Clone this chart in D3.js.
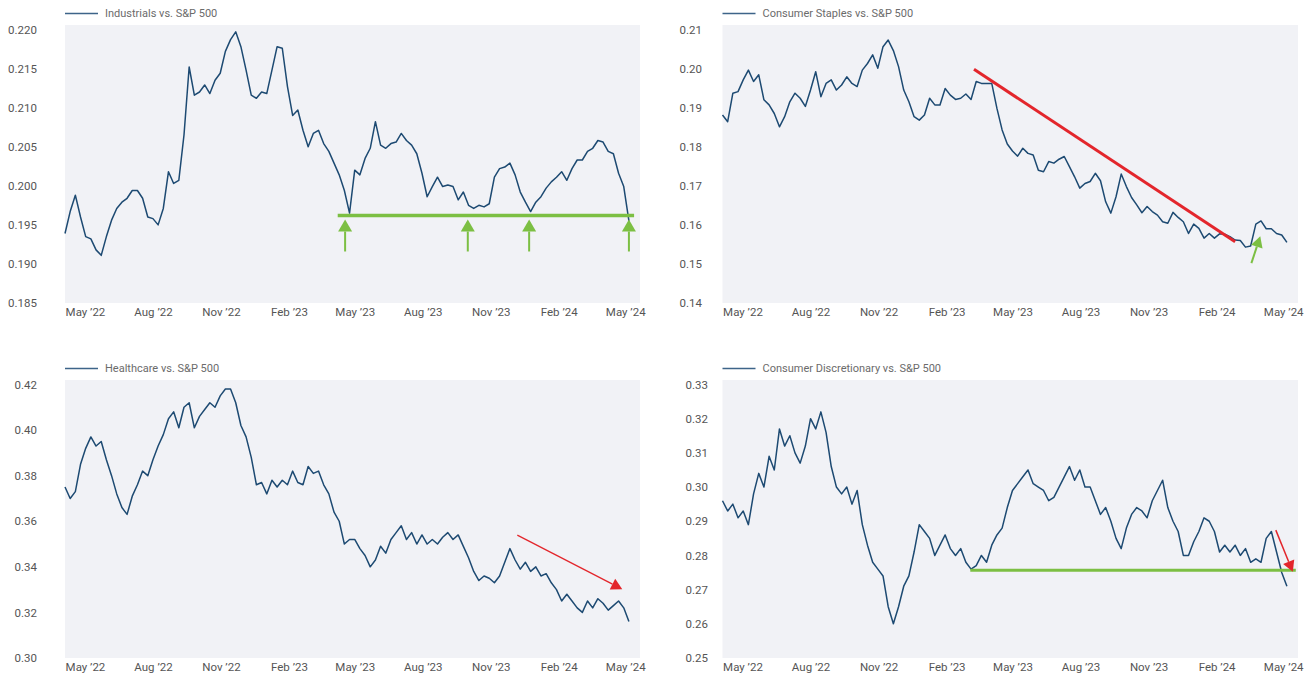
<!DOCTYPE html>
<html><head><meta charset="utf-8">
<script src="https://cdn.jsdelivr.net/npm/d3@7"></script>
<style>
body{margin:0;background:#fff}
text{font-family:Roboto,"Noto Sans",sans-serif}
</style>
</head><body>
<svg id="c" width="1312" height="682"></svg>
<script>
// ---------- DATA ----------
const startDate = "2022-04-04";          // first weekly observation
const endDomain = "2024-05-21";          // right edge of time axis
const tickDates = ["2022-05-01","2022-08-01","2022-11-01","2023-02-01","2023-05-01","2023-08-01","2023-11-01","2024-02-01","2024-05-01"];
const titles = ["Industrials vs. S&P 500","Consumer Staples vs. S&P 500","Healthcare vs. S&P 500","Consumer Discretionary vs. S&P 500"];

const industrials = [0.1939,0.1967,0.1988,0.1960,0.1935,0.1932,0.1918,0.1911,0.1935,0.1956,
0.1971,0.1979,0.1984,0.1994,0.1994,0.1984,0.1960,0.1958,0.1950,0.1971,
0.2018,0.2003,0.2007,0.2065,0.2152,0.2116,0.2120,0.2129,0.2118,0.2135,
0.2144,0.2172,0.2187,0.2197,0.2178,0.2148,0.2116,0.2112,0.2120,0.2118,
0.2148,0.2178,0.2176,0.2127,0.2090,0.2097,0.2071,0.2050,0.2067,0.2071,
0.2054,0.2044,0.2029,0.2014,0.1994,0.1965,0.2020,0.2014,0.2035,0.2048,
0.2082,0.2052,0.2048,0.2054,0.2056,0.2067,0.2058,0.2052,0.2041,0.2016,
0.1986,0.1999,0.2011,0.1999,0.2001,0.1999,0.1982,0.1992,0.1975,0.1971,
0.1975,0.1973,0.1977,0.2011,0.2022,0.2024,0.2029,0.2014,0.1992,0.1979,
0.1967,0.1979,0.1986,0.1997,0.2005,0.2011,0.2018,0.2007,0.2022,0.2033,
0.2033,0.2044,0.2048,0.2058,0.2056,0.2044,0.2041,0.2016,0.1999,0.1955];

const staples = [0.1881,0.1864,0.1937,0.1941,0.1971,0.1996,0.1967,0.1984,0.1920,0.1907,
0.1885,0.1851,0.1877,0.1915,0.1937,0.1924,0.1903,0.1945,0.1992,0.1928,
0.1962,0.1971,0.1945,0.1958,0.1979,0.1962,0.1954,0.1996,0.2013,0.2035,
0.2001,0.2056,0.2073,0.2046,0.2005,0.1945,0.1915,0.1877,0.1868,0.1881,
0.1924,0.1907,0.1907,0.1949,0.1932,0.1921,0.1924,0.1935,0.1921,0.1967,
0.1962,0.1962,0.1962,0.1898,0.1843,0.1807,0.1789,0.1776,0.1796,0.1783,
0.1779,0.1740,0.1736,0.1762,0.1758,0.1768,0.1775,0.1749,0.1723,0.1694,
0.1706,0.1711,0.1732,0.1713,0.1659,0.1630,0.1672,0.1730,0.1698,0.1670,
0.1651,0.1631,0.1647,0.1634,0.1625,0.1608,0.1604,0.1632,0.1619,0.1608,
0.1578,0.1602,0.1591,0.1566,0.1578,0.1566,0.1577,0.1576,0.1570,0.1561,
0.1560,0.1543,0.1546,0.1602,0.1610,0.1590,0.1590,0.1578,0.1574,0.1555];

const healthcare = [0.375,0.370,0.373,0.385,0.392,0.397,0.393,0.395,0.387,0.380,
0.372,0.366,0.363,0.371,0.376,0.382,0.380,0.387,0.393,0.398,
0.405,0.408,0.401,0.410,0.412,0.401,0.406,0.409,0.412,0.410,
0.415,0.418,0.418,0.412,0.402,0.397,0.388,0.376,0.377,0.372,
0.378,0.375,0.378,0.376,0.382,0.377,0.376,0.384,0.381,0.382,
0.376,0.372,0.364,0.360,0.350,0.352,0.352,0.348,0.345,0.340,
0.343,0.349,0.346,0.352,0.355,0.358,0.352,0.355,0.350,0.354,
0.350,0.352,0.350,0.353,0.355,0.352,0.354,0.349,0.344,0.338,
0.334,0.336,0.335,0.333,0.336,0.342,0.348,0.343,0.339,0.342,
0.338,0.340,0.336,0.337,0.333,0.330,0.325,0.328,0.325,0.322,
0.320,0.325,0.322,0.326,0.324,0.321,0.323,0.325,0.322,0.316];

const discretionary = [0.296,0.293,0.295,0.291,0.293,0.289,0.298,0.304,0.300,0.309,
0.305,0.317,0.312,0.315,0.310,0.307,0.312,0.320,0.317,0.322,
0.316,0.306,0.300,0.298,0.300,0.295,0.299,0.289,0.283,0.278,
0.276,0.274,0.265,0.260,0.265,0.271,0.274,0.281,0.289,0.287,
0.285,0.280,0.283,0.286,0.282,0.280,0.282,0.278,0.276,0.277,
0.280,0.278,0.283,0.286,0.288,0.294,0.299,0.301,0.303,0.305,
0.301,0.300,0.299,0.296,0.297,0.300,0.303,0.306,0.302,0.305,
0.300,0.300,0.296,0.292,0.294,0.290,0.285,0.282,0.288,0.292,
0.294,0.293,0.291,0.296,0.299,0.302,0.294,0.290,0.287,0.280,
0.280,0.284,0.287,0.291,0.290,0.287,0.281,0.283,0.281,0.283,
0.280,0.282,0.278,0.279,0.278,0.285,0.287,0.281,0.275,0.271];

const yTicksInd = [0.185,0.190,0.195,0.200,0.205,0.210,0.215,0.220];
const yTicksSta = [0.14,0.15,0.16,0.17,0.18,0.19,0.20,0.21];
const yTicksHea = [0.30,0.32,0.34,0.36,0.38,0.40,0.42];
const yTicksDis = [0.25,0.26,0.27,0.28,0.29,0.30,0.31,0.32,0.33];

// annotations (date, value)
const indSupportValue = 0.1962;
const indSupportSpan = ["2023-04-08","2024-05-13"];
const indArrowDates = ["2023-04-18","2023-10-01","2023-12-23","2024-05-06"];
const staTrend = [["2023-03-10",0.1998],["2024-02-26",0.1557]];
const staArrow = [["2024-03-19",0.1502],["2024-03-31",0.1571]];
const heaArrow = [["2023-12-07",0.3539],["2024-04-27",0.3302]];
const disSupportValue = 0.2757;
const disSupportSpan = ["2023-03-05","2024-05-18"];
const disArrow = [["2024-04-21",0.2874],["2024-05-14",0.2752]];

// ---------- DRAW ----------
const parse = d3.timeParse("%Y-%m-%d");
const t0 = parse(startDate);
const dates = industrials.map((_, i) => d3.timeDay.offset(t0, 7 * i));
const fmtTick = d3.timeFormat("%b \u2019%y");

const LINE = "#1d4a72", GREEN = "#7cbf43", RED = "#e3262c", BG = "#f1f2f6";
const svg = d3.select("#c");

const panels = [
  {title: titles[0], values: industrials, ticks: yTicksInd, fmt: ".3f", left: 65, right: 640, top: 25, bottom: 303, labelX: 37},
  {title: titles[1], values: staples, ticks: yTicksSta, fmt: ".2f", left: 722.5, right: 1298, top: 25, bottom: 303, labelX: 702},
  {title: titles[2], values: healthcare, ticks: yTicksHea, fmt: ".2f", left: 65, right: 640, top: 380, bottom: 658, labelX: 37},
  {title: titles[3], values: discretionary, ticks: yTicksDis, fmt: ".2f", left: 722.5, right: 1298, top: 380, bottom: 658, labelX: 708}
];

function arrow(g, x1, y1, x2, y2, color, lw, hl, hw) {
  const dx = x2 - x1, dy = y2 - y1, len = Math.hypot(dx, dy);
  const ux = dx / len, uy = dy / len;
  const bx = x2 - ux * hl, by = y2 - uy * hl;
  g.append("line").attr("x1", x1).attr("y1", y1).attr("x2", bx).attr("y2", by)
    .attr("stroke", color).attr("stroke-width", lw);
  g.append("path").attr("d", `M${x2},${y2}L${bx - uy * hw},${by + ux * hw}L${bx + uy * hw},${by - ux * hw}Z`)
    .attr("fill", color);
}

panels.forEach((p, k) => {
  const g = svg.append("g");
  const x = d3.scaleTime().domain([t0, parse(endDomain)]).range([p.left, p.right]);
  const y = d3.scaleLinear().domain([p.ticks[0], p.ticks[p.ticks.length - 1]])
    .range([p.bottom, p.top + 4.5]);
  p.x = x; p.y = y; p.g = g;

  g.append("rect").attr("x", p.left).attr("y", p.top).attr("width", p.right - p.left)
    .attr("height", p.bottom - p.top).attr("fill", BG);

  // legend
  g.append("line").attr("x1", p.left).attr("x2", p.left + 33)
    .attr("y1", p.top - 11.5).attr("y2", p.top - 11.5).attr("stroke", "#3d6489").attr("stroke-width", 1.6);
  g.append("text").attr("x", p.left + 40).attr("y", p.top - 11.5).attr("dy", "0.35em")
    .attr("font-size", 11).attr("fill", "#6b6b6b").text(p.title);

  // y axis labels
  const ya = d3.axisLeft(y).tickValues(p.ticks).tickFormat(d3.format(p.fmt)).tickSize(0).tickPadding(0);
  const yg = g.append("g").attr("transform", `translate(${p.labelX},0)`).call(ya);
  yg.select(".domain").remove();
  yg.selectAll("text").attr("font-size", 11.5).attr("fill", "#555").attr("font-family", "Roboto, 'Noto Sans', sans-serif");

  // x axis labels
  const xa = d3.axisBottom(x).tickValues(tickDates.map(parse)).tickFormat(fmtTick).tickSize(0).tickPadding(0);
  const xg = g.append("g").attr("transform", `translate(0,${p.bottom + 5})`).call(xa);
  xg.select(".domain").remove();
  xg.selectAll("text").attr("font-size", 11.5).attr("fill", "#555").attr("font-family", "Roboto, 'Noto Sans', sans-serif");

  // series
  const line = d3.line().x((d, i) => x(dates[i])).y(d => y(d));
  g.append("path").datum(p.values).attr("d", line).attr("fill", "none")
    .attr("stroke", LINE).attr("stroke-width", 1.5).attr("stroke-linejoin", "round");
});

// ---- annotations ----
{ // industrials
  const p = panels[0], g = p.g;
  const yl = p.y(indSupportValue);
  g.append("line").attr("x1", p.x(parse(indSupportSpan[0]))).attr("x2", p.x(parse(indSupportSpan[1])))
    .attr("y1", yl).attr("y2", yl).attr("stroke", GREEN).attr("stroke-width", 3.5);
  indArrowDates.forEach(d => {
    const xx = p.x(parse(d));
    arrow(g, xx, yl + 36, xx, yl + 4, GREEN, 2, 12, 7);
  });
}
{ // staples
  const p = panels[1], g = p.g;
  g.append("line").attr("x1", p.x(parse(staTrend[0][0]))).attr("y1", p.y(staTrend[0][1]))
    .attr("x2", p.x(parse(staTrend[1][0]))).attr("y2", p.y(staTrend[1][1]))
    .attr("stroke", RED).attr("stroke-width", 3);
  arrow(g, p.x(parse(staArrow[0][0])), p.y(staArrow[0][1]), p.x(parse(staArrow[1][0])), p.y(staArrow[1][1]), GREEN, 2, 11, 6);
}
{ // healthcare
  const p = panels[2], g = p.g;
  arrow(g, p.x(parse(heaArrow[0][0])), p.y(heaArrow[0][1]), p.x(parse(heaArrow[1][0])), p.y(heaArrow[1][1]), RED, 1.3, 11, 6);
}
{ // discretionary
  const p = panels[3], g = p.g;
  const yl = p.y(disSupportValue);
  g.append("line").attr("x1", p.x(parse(disSupportSpan[0]))).attr("x2", p.x(parse(disSupportSpan[1])))
    .attr("y1", yl).attr("y2", yl).attr("stroke", GREEN).attr("stroke-width", 3);
  arrow(g, p.x(parse(disArrow[0][0])), p.y(disArrow[0][1]), p.x(parse(disArrow[1][0])), p.y(disArrow[1][1]), RED, 1.5, 11, 6);
}
</script>
</body></html>
